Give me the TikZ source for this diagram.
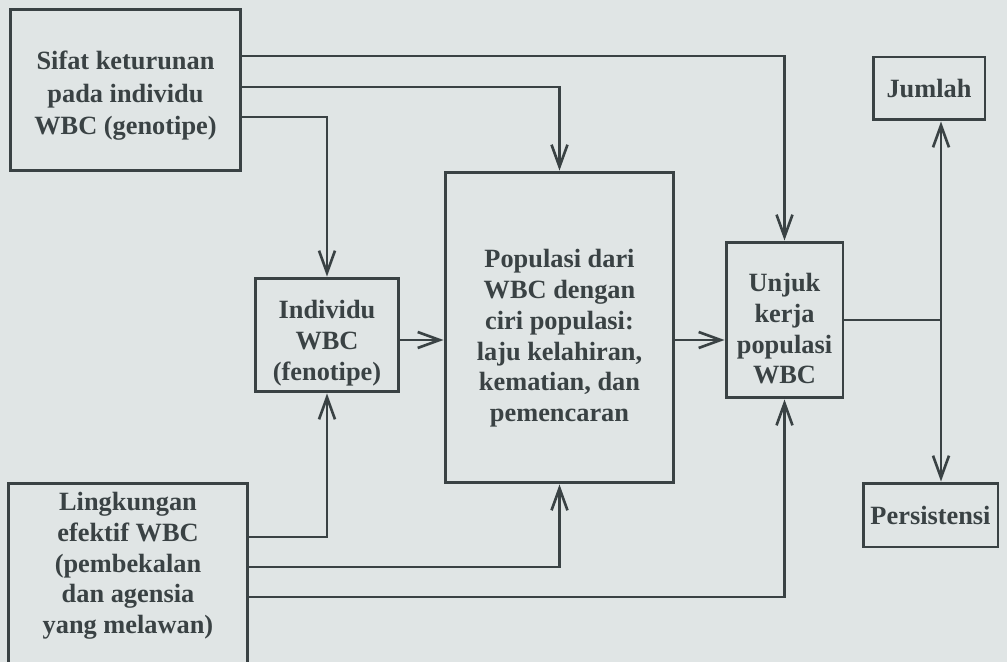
\documentclass[tikz,border=0pt]{standalone}
\usepackage{fontspec}
\setmainfont{Liberation Serif}
\usetikzlibrary{arrows.meta}

\definecolor{paper}{RGB}{224,229,229}
\definecolor{ink}{RGB}{58,66,68}

% invisible struts that move the text block inside a box
\newcommand{\pushdown}[1]{\rule{0pt}{#1}}
\newcommand{\pushup}[1]{\rule[-#1]{0pt}{#1}}

\begin{document}
\begin{tikzpicture}[
		x=0.02cm, y=-0.02cm,
		% Styling for the boxes of the scheme
		boxstyle/.style={draw=ink, line width=1.7pt, align=center, text=ink, inner sep=2pt,
			font=\bfseries\fontsize{15}{17.5}\selectfont},
		% Connectors with open arrow heads
		arrowstyle/.style={draw=ink, line width=1.5pt,
			-{Straight Barb[length=0.44cm, width=0.32cm]}},
		linestyle/.style={draw=ink, line width=1.5pt}
		]
		
		% =========================================================================
		% PAGE
		% =========================================================================
		\useasboundingbox (0,0) rectangle (1007,662);
		\clip (0,0) rectangle (1007,662);
		\fill[paper] (0,0) rectangle (1007,662);
		
		% =========================================================================
		% BOXES
		% =========================================================================
		\node[boxstyle, font=\bfseries\fontsize{15}{18.5}\selectfont,
		minimum width=4.62cm, minimum height=3.24cm] (sifat) at (125.5,90)
		{\pushdown{0.6cm}Sifat keturunan\\pada individu\\WBC (genotipe)};
		\node[boxstyle, minimum width=2.88cm, minimum height=2.28cm] (individu) at (327,335)
		{\pushdown{0.7cm}Individu\\WBC\\(fenotipe)};
		\node[boxstyle, minimum width=4.58cm, minimum height=6.22cm] (populasi) at (559.5,327.5)
		{\pushdown{0.8cm}Populasi dari\\WBC dengan\\ciri populasi:\\laju kelahiran,\\kematian, dan\\pemencaran};
		\node[boxstyle, minimum width=2.34cm, minimum height=3.12cm] (unjuk) at (784.5,320)
		{\pushdown{0.72cm}Unjuk\\kerja\\populasi\\WBC};
		\node[boxstyle, minimum width=2.24cm, minimum height=1.26cm] (jumlah) at (929,88.5)
		{Jumlah};
		\node[boxstyle, minimum width=2.7cm, minimum height=1.28cm] (persis) at (930.5,515)
		{Persistensi};
		\node[boxstyle, minimum width=4.8cm, minimum height=3.7cm] (lingkungan) at (128,575.5)
		{Lingkungan\\efektif WBC\\(pembekalan\\dan agensia\\yang melawan)\pushup{0.5cm}};
		
		% =========================================================================
		% CONNECTORS
		% =========================================================================
		% from the genotype box
		\draw[arrowstyle] ([yshift=0.68cm]sifat.east) -| (unjuk.north);
		\draw[arrowstyle] ([yshift=0.06cm]sifat.east) -| (populasi.north);
		\draw[arrowstyle] ([yshift=-0.54cm]sifat.east) -| (individu.north);
		
		% from the environment box
		\draw[arrowstyle] ([yshift=0.77cm]lingkungan.east) -| (individu.south);
		\draw[arrowstyle] ([yshift=0.17cm]lingkungan.east) -| (populasi.south);
		\draw[arrowstyle] ([yshift=-0.43cm]lingkungan.east) -| (unjuk.south);
		
		% along the middle row
		\coordinate (masuk) at ([yshift=-0.1cm]individu.east);
		\coordinate (keluar) at ([yshift=-0.25cm]populasi.east);
		\draw[arrowstyle] (masuk) -- (masuk -| populasi.west);
		\draw[arrowstyle] (keluar) -- (keluar -| unjuk.west);
		
		% split towards number and persistence
		\coordinate (cabang) at (941,320);
		\draw[linestyle] (unjuk.east) -- (cabang);
		\draw[arrowstyle] (cabang) -- (cabang |- jumlah.south);
		\draw[arrowstyle] (cabang) -- (cabang |- persis.north);
		
	\end{tikzpicture}
\end{document}
